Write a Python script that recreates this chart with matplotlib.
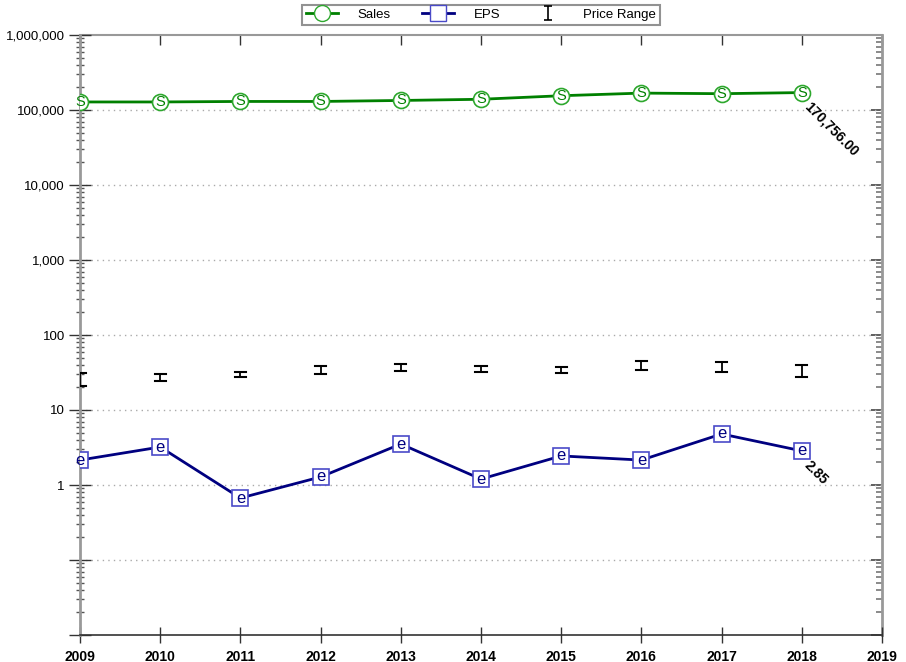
import matplotlib
matplotlib.use("Agg")
import matplotlib.pyplot as plt
from matplotlib.ticker import LogLocator, FixedLocator, NullFormatter
from matplotlib.lines import Line2D
from matplotlib.path import Path
import numpy as np

plt.rcParams['font.family'] = ['Liberation Sans', 'DejaVu Sans']

years = [2009, 2010, 2011, 2012, 2013, 2014, 2015, 2016, 2017, 2018]
sales = [128000, 128000, 130000, 130000, 134000, 139000, 155000, 168000, 165000, 170756]
eps = [2.15, 3.21, 0.67, 1.28, 3.52, 1.20, 2.44, 2.15, 4.79, 2.85]
price_high = [31.1, 30.0, 32.4, 39.0, 40.7, 39.0, 37.2, 44.6, 43.3, 39.8]
price_low = [20.9, 24.3, 27.3, 30.2, 32.8, 31.8, 31.4, 34.1, 32.4, 27.3]
y_labels = ["1", "10", "100", "1,000", "10,000", "100,000", "1,000,000"]
y_label_vals = [1, 10, 100, 1000, 10000, 100000, 1000000]

W, H = 906, 662
fig = plt.figure(figsize=(W / 100, H / 100), dpi=100)
rect = [80 / W, 1 - 635 / H, (882 - 80) / W, (635 - 35) / H]

# right/top ticks (inward) - background axes
axr = fig.add_axes(rect)
axr.set_yscale('log')
axr.set_ylim(0.01, 1e6)
axr.set_xlim(2009, 2019)
axr.yaxis.tick_right()
axr.yaxis.set_major_locator(FixedLocator([0.01, 0.1] + y_label_vals))
axr.yaxis.set_minor_locator(LogLocator(base=10, subs=np.arange(2, 10), numticks=20))
axr.yaxis.set_major_formatter(NullFormatter())
axr.yaxis.set_minor_formatter(NullFormatter())
axr.tick_params(axis='y', which='major', direction='in', length=8, width=1.2, color='#444444')
axr.tick_params(axis='y', which='minor', direction='in', length=4, width=1.2, color='#777777')
axr.xaxis.tick_top()
axr.set_xticks(range(2009, 2020))
axr.set_xticklabels([])
axr.tick_params(axis='x', direction='in', length=7, width=1, color='#333333')
axr.spines['left'].set_visible(False)
axr.spines['bottom'].set_visible(False)
axr.spines['right'].set_color('#999999')
axr.spines['right'].set_linewidth(2)
axr.spines['top'].set_color('#999999')
axr.spines['top'].set_linewidth(1.5)

ax = fig.add_axes(rect)
ax.patch.set_visible(False)
ax.set_yscale('log')
ax.set_ylim(0.01, 1e6)
ax.set_xlim(2009, 2019)

green = '#008000'
green_light = '#2ea82e'
navy = '#000080'
blue_edge = '#4a4ac8'

# gridlines
for v in [0.1, 1, 10, 100, 1000, 10000, 100000]:
    ax.axhline(v, color='#aaaaaa', lw=1, ls=(0, (1, 3)), zorder=1)

# price range
for x, hi, lo in zip(years, price_high, price_low):
    ax.plot([x, x], [lo, hi], color='black', lw=1.3, zorder=6)
    ax.plot([x - 0.07, x + 0.07], [hi, hi], color='black', lw=1.5, zorder=6)
    ax.plot([x - 0.07, x + 0.07], [lo, lo], color='black', lw=1.5, zorder=6)

# sales
ax.plot(years, sales, color=green, lw=2, zorder=4)
ax.plot(years, sales, ls='none', marker='o', ms=11.5, mfc='white', mec=green_light, mew=1.2, zorder=5)
for x, v in zip(years, sales):
    ax.text(x, v, 'S', ha='center', va='center', color=green, fontsize=10.5, zorder=6)

# eps
ax.plot(years, eps, color=navy, lw=2, zorder=4)
ax.plot(years, eps, ls='none', marker='s', ms=11.5, mfc='white', mec=blue_edge, mew=1.2, zorder=5)
for x, v in zip(years, eps):
    ax.text(x, v, 'e', ha='center', va='center', color=navy, fontsize=12, zorder=6)

# annotations
ax.annotate(f"{sales[-1]:,.2f}", (years[-1], sales[-1]), xytext=(7, -5), textcoords='offset points',
            rotation=-45, rotation_mode='anchor', ha='left', va='top', fontsize=10, fontweight='bold', color='black')
ax.annotate(f"{eps[-1]:.2f}", (years[-1], eps[-1]), xytext=(7, -5), textcoords='offset points',
            rotation=-45, rotation_mode='anchor', ha='left', va='top', fontsize=10, fontweight='bold', color='black')

# left ticks
ax.yaxis.set_major_locator(FixedLocator([0.01, 0.1] + y_label_vals))
ax.set_yticklabels([""] * 2 + y_labels)
ax.yaxis.set_minor_locator(LogLocator(base=10, subs=np.arange(2, 10), numticks=20))
ax.yaxis.set_minor_formatter(NullFormatter())
ax.tick_params(axis='y', which='major', direction='inout', length=16, width=1, color='#333333',
               labelsize=9.5, left=True, right=False, pad=3)
ax.tick_params(axis='y', which='minor', direction='inout', length=6, width=1, color='#555555',
               left=True, right=False)
ax.set_xticks(range(2009, 2020))
ax.set_xticklabels([str(y) for y in range(2009, 2020)], fontweight='bold')
ax.tick_params(axis='x', direction='inout', length=11, width=1, color='#333333', labelsize=10,
               top=False, bottom=True, pad=5)

ax.spines['right'].set_visible(False)
ax.spines['top'].set_visible(False)
ax.spines['left'].set_color('#999999')
ax.spines['left'].set_linewidth(2)
ax.spines['bottom'].set_color('#333333')
ax.spines['bottom'].set_linewidth(1.2)

# legend
range_marker = Path([(0, -1), (0, 1), (-0.6, 1), (0.6, 1), (-0.6, -1), (0.6, -1)],
                    [Path.MOVETO, Path.LINETO, Path.MOVETO, Path.LINETO, Path.MOVETO, Path.LINETO])
handles = [
    Line2D([], [], color=green, lw=2, marker='o', ms=11.5, mfc='white', mec=green_light),
    Line2D([], [], color=navy, lw=2, marker='s', ms=11.5, mfc='white', mec=blue_edge),
    Line2D([], [], color='black', lw=0, marker=range_marker, ms=10, mec='black', mfc='none', mew=1.2),
]
leg = fig.legend(handles, ['Sales', 'EPS', 'Price Range'], loc='center', bbox_to_anchor=(481 / W, 1 - 15 / H),
                 ncol=3, frameon=True, fancybox=False, edgecolor='#777777', fontsize=9.5,
                 handlelength=2.4, columnspacing=2.4, borderpad=0.3, handletextpad=1.5)
leg.get_frame().set_linewidth(1.5)

fig.savefig('out.png', dpi=100)
